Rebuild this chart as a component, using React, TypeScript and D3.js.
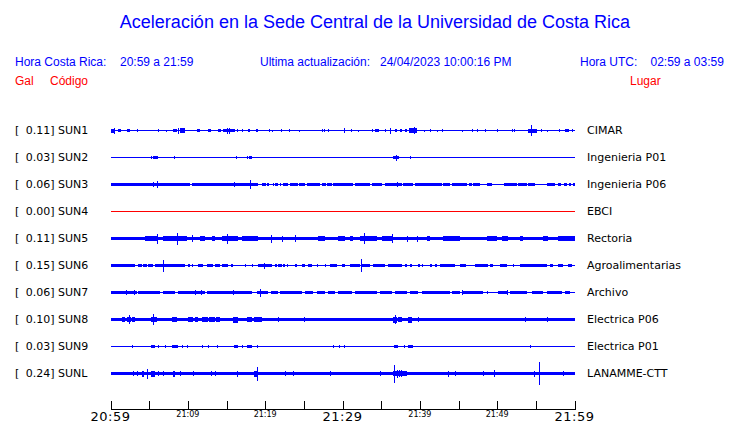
import React from "react";
import * as d3 from "d3";

const W = 740;
const H = 423;

const titleText = "Aceleración en la Sede Central de la Universidad de Costa Rica";
const stationCodes = ["SUN1", "SUN2", "SUN3", "SUN4", "SUN5", "SUN6", "SUN7", "SUN8", "SUN9", "SUNL"];
const galValues = [0.11, 0.03, 0.06, 0.0, 0.11, 0.15, 0.06, 0.1, 0.03, 0.24];
const places = [
  "CIMAR",
  "Ingenieria P01",
  "Ingenieria P06",
  "EBCI",
  "Rectoria",
  "Agroalimentarias",
  "Archivo",
  "Electrica P06",
  "Electrica P01",
  "LANAMME-CTT",
];
// background (quiet) half amplitude of each trace
const baseAmps = [0.5, 0.5, 0.5, 0.5, 1.85, 0.5, 0.5, 1.7, 0.5, 1.85];

// events: [start minute, end minute, half amplitude]
const sun1Events = [
  [0, 0.45, 2], [0.5, 0.5, 3], [0.93, 1.36, 1.7], [2.13, 2.48, 1.7], [3.47, 3.47, 1.7], [6.18, 6.18, 1.5],
  [7.21, 7.21, 1], [8.12, 8.56, 1.7], [8.69, 8.69, 3], [9.03, 9.63, 2.8], [11.15, 11.57, 1.7], [12.65, 13.0, 1.7],
  [13.94, 14.29, 1.7], [14.59, 16.1, 1.9], [15.03, 15.03, 3], [15.28, 15.28, 3], [16.32, 16.32, 1.7],
  [16.96, 16.96, 1.7], [17.74, 18.08, 1.7], [18.77, 19.03, 1.7], [20.49, 20.49, 1.5], [20.92, 20.92, 1],
  [22.01, 22.01, 1.7], [23.12, 23.12, 1.7], [24.41, 24.41, 1], [27.31, 27.31, 1.5], [27.64, 27.64, 1.5],
  [28.16, 28.16, 1.7], [30.19, 30.36, 2.2], [31.06, 31.06, 1.7], [32.04, 32.04, 1], [33.85, 33.85, 1.5],
  [34.2, 34.76, 1.7], [35.45, 35.45, 1.5], [36.14, 36.14, 3], [36.79, 37.08, 1.7], [37.43, 37.65, 1.7],
  [38.04, 38.04, 1.5], [38.12, 38.3, 1.7], [38.64, 39.59, 2.2], [39.24, 39.4, 3.3], [40.58, 40.58, 1],
  [41.31, 41.31, 1.5], [42.18, 42.18, 1], [42.9, 42.9, 1.5], [45.49, 45.49, 1], [46.78, 46.78, 1.5],
  [47.43, 47.43, 1.5], [48.46, 48.46, 1.5], [49.94, 49.94, 1.7], [51.95, 51.95, 1.5], [52.21, 52.21, 1.7],
  [54.02, 55.11, 2], [54.33, 54.33, 5.5], [55.7, 55.7, 1.5], [56.4, 56.4, 1], [58.03, 58.03, 1.5],
  [58.77, 59.32, 1.7], [59.63, 59.63, 1.5],
];
const sun2Events = [
  [5.24, 5.4, 1.5], [5.53, 6.1, 1.7], [8.21, 8.21, 1.5], [16.23, 16.23, 1.5], [17.69, 17.69, 1.5],
  [17.9, 18.33, 1.7], [36.57, 37.26, 1.7], [36.92, 36.92, 3], [38.77, 38.77, 1.5],
];
const sun3Events = [
  [0, 10.3, 1.7], [10.55, 19.07, 1.7], [5.53, 5.53, 2.5], [6.05, 6.05, 3.5], [16.0, 16.0, 2.5], [18.08, 18.08, 4.5],
  [19.55, 20.07, 1.7], [20.3, 20.45, 1.7], [21.0, 21.1, 1.7], [21.27, 21.62, 1.7], [21.9, 22.1, 1.7],
  [22.34, 22.91, 1.7], [23.21, 24.2, 1.7], [24.41, 25.15, 1.7], [25.37, 27.09, 1.7], [27.31, 27.83, 1.7],
  [27.96, 28.6, 1.7], [28.81, 31.39, 1.7], [31.61, 33.55, 1.7], [33.77, 35.07, 1.7], [35.49, 37.65, 1.7],
  [37.0, 37.0, 2.5], [37.86, 39.15, 1.7], [39.37, 42.82, 1.7], [43.03, 43.9, 1.7], [44.12, 46.06, 1.7],
  [46.4, 46.7, 1.7], [46.91, 47.78, 1.7], [48.64, 49.29, 1.7], [50.92, 52.52, 1.7], [52.73, 53.82, 1.7],
  [54.02, 54.89, 1.7], [56.4, 57.48, 1.7], [57.9, 58.21, 1.7], [58.64, 58.99, 1.7], [59.32, 59.5, 1.7],
  [59.84, 60, 1.7],
];
const sun4Events: number[][] = [];
const sun5Events = [
  [4.46, 6.18, 2.4], [6.05, 6.05, 5], [6.83, 9.85, 2.4], [8.64, 8.64, 6], [10.5, 10.5, 3.3], [11.57, 12.22, 2.4],
  [13.09, 13.51, 2.8], [14.38, 16.53, 2.7], [15.06, 15.06, 5], [16.96, 19.11, 2.4], [20.71, 20.71, 4],
  [22.13, 22.13, 3], [23.86, 23.86, 3.5], [26.87, 27.74, 2.4], [29.46, 30.32, 2.4], [30.97, 31.36, 2.8],
  [32.26, 34.42, 2.4], [32.82, 32.82, 5.5], [35.07, 36.57, 2.4], [36.36, 36.36, 4.5], [38.3, 38.3, 3],
  [39.59, 39.59, 3], [40.88, 41.31, 2.4], [43.03, 45.19, 2.4], [48.64, 49.94, 2.8], [50.58, 51.44, 2.8],
  [52.95, 53.38, 2.4], [55.96, 56.61, 2.8], [57.9, 60, 2.4],
];
const sun6Events = [
  [0, 3.17, 1.5], [3.6, 4.03, 1.5], [4.24, 4.68, 1.5], [4.89, 5.53, 1.5], [5.75, 9.63, 1.5], [6.83, 6.83, 6],
  [10.06, 10.28, 1.5], [10.5, 10.71, 1.5], [11.35, 12.0, 1.5], [12.44, 13.29, 1.5], [13.51, 14.16, 1.5],
  [14.38, 15.23, 1.5], [15.54, 15.88, 1.5], [17.39, 17.39, 1.5], [18.26, 18.47, 1.5], [19.11, 20.84, 1.5],
  [19.89, 19.89, 3], [21.27, 21.49, 1.5], [21.7, 22.13, 1.5], [22.34, 22.5, 1.5], [22.8, 22.99, 1.5],
  [23.86, 24.07, 1.5], [24.72, 25.15, 1.5], [25.58, 26.02, 1.5], [26.66, 26.87, 1.5], [27.74, 27.74, 1.5],
  [28.38, 29.25, 1.5], [29.9, 30.32, 1.5], [30.97, 32.26, 1.5], [32.35, 32.35, 6.5], [32.48, 33.55, 1.5],
  [33.98, 35.49, 1.5], [35.92, 37.65, 1.5], [38.08, 38.3, 1.5], [38.73, 38.94, 1.5], [39.8, 40.02, 1.5],
  [40.24, 40.24, 1.5], [41.31, 41.53, 1.5], [41.96, 42.18, 1.5], [42.61, 44.55, 1.5], [45.19, 45.97, 1.5],
  [47.13, 48.85, 1.5], [49.07, 49.5, 1.5], [50.36, 51.23, 1.5], [52.08, 52.08, 1.5], [52.95, 56.4, 1.5],
  [56.83, 57.26, 1.5], [57.9, 58.55, 1.5], [59.2, 59.63, 1.5],
];
const sun7Events = [
  [0, 3.39, 1.6], [1.94, 1.94, 2.3], [3.02, 3.02, 2.3], [3.6, 6.4, 1.6], [6.83, 8.34, 1.6], [8.77, 12.22, 1.6],
  [10.93, 10.93, 2.5], [11.66, 11.66, 2.5], [12.44, 18.26, 1.6], [15.88, 15.88, 2.5], [18.9, 20.4, 1.6],
  [19.37, 19.37, 4], [20.71, 21.7, 1.6], [21.92, 24.72, 1.6], [25.15, 26.23, 1.6], [26.66, 27.74, 1.6],
  [28.16, 29.03, 1.6], [29.46, 31.19, 1.6], [31.61, 34.42, 1.6], [34.85, 36.36, 1.6], [36.79, 38.3, 1.6],
  [38.73, 39.8, 1.6], [40.24, 43.9, 1.6], [44.12, 45.19, 1.6], [45.41, 45.41, 2.5], [45.62, 48.2, 1.6],
  [48.64, 48.85, 1.6], [50.14, 51.23, 1.6], [51.23, 51.23, 2.3], [51.66, 53.82, 1.6], [54.46, 55.96, 1.6],
  [56.4, 58.34, 1.6], [58.77, 59.42, 1.6],
];
const sun8Events = [
  [1.45, 1.9, 2.6], [2.1, 2.6, 2.6], [2.39, 2.39, 4.5], [2.75, 3.17, 2.6], [5.24, 5.97, 2.8], [5.53, 5.53, 5.5],
  [7.91, 8.56, 2.6], [10.06, 10.7, 2.6], [10.9, 11.35, 2.5], [11.79, 12.6, 2.6], [12.8, 13.5, 2.6],
  [13.7, 14.16, 2.6], [15.88, 16.53, 3], [17.61, 18.3, 2.6], [18.5, 19.55, 2.6], [21.7, 21.7, 2.5],
  [25.06, 25.06, 2.5], [36.57, 37.0, 3], [36.79, 36.79, 4.5], [37.2, 37.65, 2.6], [38.51, 38.94, 3],
  [39.72, 39.72, 2.5], [53.6, 53.6, 2.3], [56.4, 56.4, 2.3],
];
const sun9Events = [
  [2.74, 2.74, 1.5], [5.24, 5.75, 1.5], [6.18, 6.18, 1.5], [7.0, 7.0, 1.5], [7.91, 8.69, 1.8],
  [9.3, 9.3, 1.5], [9.85, 9.85, 1.5], [11.87, 11.87, 1.5], [12.57, 12.57, 1.5], [13.81, 13.81, 1.5],
  [16.01, 16.45, 1.8], [16.96, 16.96, 1.5], [17.69, 18.26, 1.8], [18.9, 18.9, 1.5], [28.81, 28.81, 1.5],
  [29.59, 29.59, 1.5], [30.19, 30.19, 1.5], [36.66, 37.22, 1.8], [37.95, 37.95, 1.5], [38.51, 39.08, 1.8],
  [54.24, 54.24, 1.5],
];
const sunlEvents = [
  [2.87, 2.87, 2.5], [3.47, 3.47, 2.5], [4.03, 4.37, 3], [4.76, 4.76, 5], [5.2, 5.75, 3], [6.18, 6.18, 2.5],
  [6.83, 6.83, 2.5], [8.12, 8.34, 3], [9.03, 9.03, 2.5], [10.67, 10.67, 2.5], [13.04, 13.04, 2.5],
  [13.55, 13.55, 2.5], [16.32, 16.32, 3], [18.52, 19.11, 3], [18.98, 18.98, 7], [22.56, 22.56, 2.5],
  [23.64, 23.64, 2.5], [28.38, 28.38, 2.5], [34.85, 34.85, 2.5], [36.57, 38.3, 2.4], [36.66, 36.66, 9],
  [37.0, 37.0, 4], [37.3, 37.3, 3.5], [37.6, 37.6, 3.5], [43.6, 43.6, 3], [44.55, 44.55, 2.5],
  [48.2, 48.2, 2.5], [49.59, 49.59, 3.5], [54.8, 54.8, 3], [55.45, 55.45, 11.7], [58.55, 58.55, 2.5],
];
const traceEvents = [
  sun1Events, sun2Events, sun3Events, sun4Events, sun5Events,
  sun6Events, sun7Events, sun8Events, sun9Events, sunlEvents,
];

const tickMinutes = [0, 5, 10, 15, 20, 25, 30, 35, 40, 45, 50, 55, 60];
const majorTickLabels = [
  [0, "20:59"],
  [30, "21:29"],
  [60, "21:59"],
];
const minorTickLabels = [
  [10, "21:09"],
  [20, "21:19"],
  [40, "21:39"],
  [50, "21:49"],
];

const BLUE = "#0000ff";
const RED = "#ff0000";
const SANS = "'Liberation Sans', Arial, sans-serif";
const DEJA = "'DejaVu Sans', sans-serif";

export default function App() {
  const x = d3.scaleLinear().domain([0, 60]).range([110.5, 574.5]);
  const y = d3.scalePoint<string>().domain(stationCodes).range([130.5, 373.5]);
  const amp = d3.scaleLinear().domain([0, 10]).range([0, 10]);

  return (
    <svg
      width={W}
      height={H}
      style={{ position: "absolute", left: 0, top: 0, background: "#fff" }}
    >
      <text x={375} y={28} textAnchor="middle" fontFamily={SANS} fontSize={18} fill={BLUE}>
        {titleText}
      </text>

      <g fontFamily={SANS} fontSize={12} fill={BLUE}>
        <text x={15} y={66}>Hora Costa Rica:</text>
        <text x={120} y={66}>20:59 a 21:59</text>
        <text x={260} y={66}>Ultima actualización:</text>
        <text x={380} y={66}>24/04/2023 10:00:16 PM</text>
        <text x={580} y={66}>Hora UTC:</text>
        <text x={650.5} y={66}>02:59 a 03:59</text>
      </g>
      <g fontFamily={SANS} fontSize={12} fill={RED}>
        <text x={15} y={85}>Gal</text>
        <text x={50} y={85}>Código</text>
        <text x={630} y={85}>Lugar</text>
      </g>

      {stationCodes.map((code, i) => {
        const cy = y(code) as number;
        const color = code === "SUN4" ? RED : BLUE;
        const base = amp(baseAmps[i]);
        return (
          <g key={code}>
            <text x={15} y={cy + 3.8} fontFamily={DEJA} fontSize={11} fill="#000">[</text>
            <text x={54.5} y={cy + 3.8} fontFamily={DEJA} fontSize={11} fill="#000" textAnchor="end">
              {galValues[i].toFixed(2) + "]"}
            </text>
            <text x={58} y={cy + 3.8} fontFamily={DEJA} fontSize={11} fill="#000">{code}</text>
            <text x={587} y={cy + 3.8} fontFamily={DEJA} fontSize={11} fill="#000">{places[i]}</text>
            <g fill={color} shapeRendering="crispEdges">
              <rect x={x(0)} y={cy - base} width={x(60) - x(0)} height={2 * base} />
              {traceEvents[i].map((ev, j) => {
                const x0 = x(ev[0]);
                const x1 = x(ev[1]);
                const a = amp(ev[2]);
                return (
                  <rect key={j} x={x0} y={cy - a} width={Math.max(1, x1 - x0)} height={2 * a} />
                );
              })}
            </g>
          </g>
        );
      })}

      <g shapeRendering="crispEdges" stroke="#000">
        <line x1={x(0)} x2={x(60)} y1={409.5} y2={409.5} />
        {tickMinutes.map((m) => (
          <line key={m} x1={Math.round(x(m)) + 0.5} x2={Math.round(x(m)) + 0.5} y1={401} y2={409.5} />
        ))}
      </g>
      {majorTickLabels.map(([m, label]) => (
        <text
          key={String(label)}
          x={x(m as number)}
          y={421}
          textAnchor="middle"
          fontFamily={DEJA}
          fontSize={13}
          letterSpacing={0.5}
          fill="#000"
        >
          {label}
        </text>
      ))}
      {minorTickLabels.map(([m, label]) => (
        <text
          key={String(label)}
          x={x(m as number)}
          y={417}
          textAnchor="middle"
          fontFamily={DEJA}
          fontSize={8}
          fill="#000"
        >
          {label}
        </text>
      ))}
    </svg>
  );
}
